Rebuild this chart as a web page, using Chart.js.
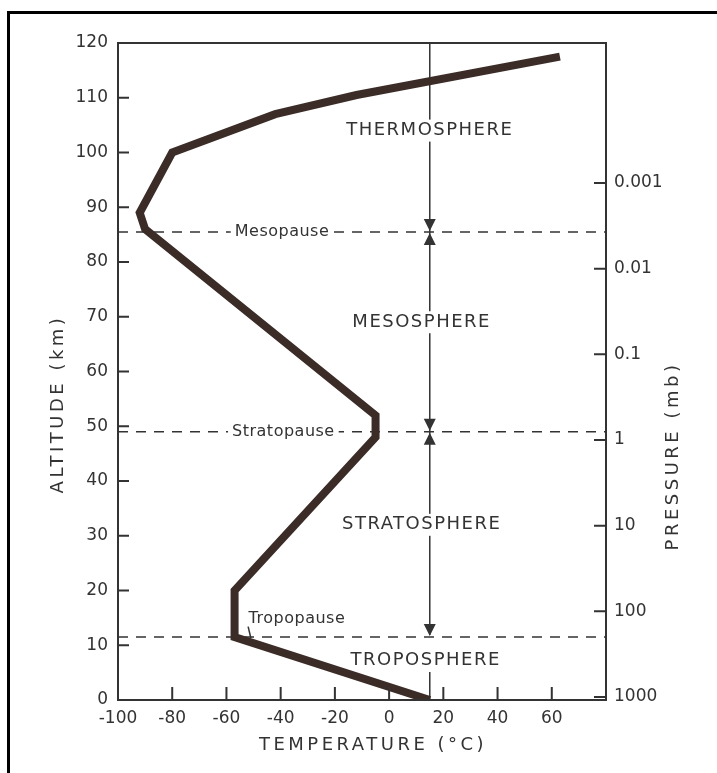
<!DOCTYPE html>
<html>
<head>
<meta charset="utf-8">
<script src="https://cdn.jsdelivr.net/npm/chart.js@4.4.0/dist/chart.umd.min.js"></script>
<style>
  html, body { margin: 0; padding: 0; background: #fff; }
  #wrap { position: relative; width: 717px; height: 773px; overflow: hidden; }
  #chart { position: absolute; left: 0; top: 0; }
  #frame { position: absolute; left: 7px; top: 11px; width: 760px; height: 820px; border: 3px solid #000; pointer-events: none; }
</style>
</head>
<body>
<div id="wrap">
  <canvas id="chart" width="717" height="773"></canvas>
  <div id="frame"></div>
</div>
<script>
// temperature profile (°C vs km)
const temperature = [15, -57, -57, -5, -5, -90, -92, -80, -42, -12, 63];
const altitude = [0, 11.5, 20, 48, 52, 86, 89, 100, 107, 110.5, 117.5];

const altitudeTicks = [0, 10, 20, 30, 40, 50, 60, 70, 80, 90, 100, 110, 120];
const temperatureTicks = [-100, -80, -60, -40, -20, 0, 20, 40, 60, 80];
const pressureTicks = [0.001, 0.01, 0.1, 1, 10, 100, 1000];

const layerNames = ['THERMOSPHERE', 'MESOSPHERE', 'STRATOSPHERE', 'TROPOSPHERE'];
const layerTemps = [15, 12, 12, 13.5];
const layerAlts = [104, 69, 32, 7.3];

const pauseNames = ['Mesopause', 'Stratopause', 'Tropopause'];
const pauseAlts = [85.5, 49, 11.5];
const pauseLabelTemps = [-39.5, -39, -34];
const pauseLabelAlts = [85.5, 49, 14.8];

const dividerTemp = 15;

const ink = '#333';
const fontFamily = "'DejaVu Sans', sans-serif";

function triangle(ctx, x, y, dir) {
  // dir 1 = pointing down to y, -1 = pointing up to y
  ctx.beginPath();
  ctx.moveTo(x, y);
  ctx.lineTo(x - 6, y - dir * 12);
  ctx.lineTo(x + 6, y - dir * 12);
  ctx.closePath();
  ctx.fill();
}

function labelWithBg(ctx, text, x, y, padX, padY) {
  const w = ctx.measureText(text).width;
  ctx.fillStyle = '#fff';
  ctx.fillRect(x - w / 2 - padX, y - 9 - padY, w + padX * 2, 18 + padY * 2);
  ctx.fillStyle = ink;
  ctx.fillText(text, x, y);
}

const overlay = {
  id: 'overlay',
  beforeDatasetsDraw(chart) {
    const { ctx, chartArea, scales } = chart;
    const x = scales.x;
    const y = scales.y;
    const vx = x.getPixelForValue(dividerTemp);
    ctx.save();

    // pause lines
    ctx.strokeStyle = ink;
    ctx.lineWidth = 1.5;
    ctx.setLineDash([10, 8]);
    pauseAlts.forEach((a) => {
      const py = y.getPixelForValue(a);
      ctx.beginPath();
      ctx.moveTo(chartArea.left, py);
      ctx.lineTo(chartArea.right, py);
      ctx.stroke();
    });
    ctx.setLineDash([]);

    // vertical divider
    const tropoY = y.getPixelForValue(pauseAlts[2]);
    const tropoLabelY = y.getPixelForValue(layerAlts[3]);
    ctx.beginPath();
    ctx.moveTo(vx, chartArea.top);
    ctx.lineTo(vx, tropoY - 2);
    ctx.moveTo(vx, tropoLabelY + 12);
    ctx.lineTo(vx, chartArea.bottom);
    ctx.stroke();

    // arrow heads
    ctx.fillStyle = ink;
    pauseAlts.forEach((a, i) => {
      const py = y.getPixelForValue(a);
      triangle(ctx, vx, py - 1, 1);
      if (i < 2) triangle(ctx, vx, py + 1, -1);
    });

    // pause labels
    ctx.font = '16px ' + fontFamily;
    ctx.letterSpacing = '0.5px';
    ctx.textAlign = 'center';
    ctx.textBaseline = 'middle';
    pauseNames.forEach((n, i) => {
      const px = x.getPixelForValue(pauseLabelTemps[i]);
      const py = y.getPixelForValue(pauseLabelAlts[i]);
      if (i < 2) labelWithBg(ctx, n, px, py, 4, 0);
      else { ctx.fillStyle = ink; ctx.fillText(n, px, py); }
    });
    // little pointer from Tropopause label
    ctx.beginPath();
    ctx.moveTo(x.getPixelForValue(-52), y.getPixelForValue(13.4));
    ctx.lineTo(x.getPixelForValue(-51), tropoY + 1);
    ctx.stroke();

    // layer names
    ctx.font = '18px ' + fontFamily;
    ctx.letterSpacing = '1.5px';
    layerNames.forEach((n, i) => {
      labelWithBg(ctx, n, x.getPixelForValue(layerTemps[i]), y.getPixelForValue(layerAlts[i]), 3, 2);
    });
    ctx.restore();
  },
  afterDraw(chart) {
    const { ctx, chartArea, scales } = chart;
    ctx.save();
    ctx.strokeStyle = ink;
    ctx.lineWidth = 2;
    ctx.strokeRect(chartArea.left, chartArea.top, chartArea.right - chartArea.left, chartArea.bottom - chartArea.top);

    // inward tick marks
    ctx.beginPath();
    altitudeTicks.slice(1, -1).forEach((v) => {
      const py = scales.y.getPixelForValue(v);
      ctx.moveTo(chartArea.left, py);
      ctx.lineTo(chartArea.left + 11, py);
    });
    temperatureTicks.slice(1, -1).forEach((v) => {
      const px = scales.x.getPixelForValue(v);
      ctx.moveTo(px, chartArea.bottom);
      ctx.lineTo(px, chartArea.bottom - 13);
    });
    pressureTicks.forEach((v) => {
      const py = scales.y2.getPixelForValue(v);
      ctx.moveTo(chartArea.right, py);
      ctx.lineTo(chartArea.right - 12, py);
    });
    ctx.stroke();

    // axis titles
    ctx.fillStyle = ink;
    ctx.textAlign = 'center';
    ctx.textBaseline = 'middle';
    ctx.font = '18px ' + fontFamily;
    ctx.letterSpacing = '3.5px';
    ctx.fillText('TEMPERATURE (°C)', 373, 745);
    ctx.save();
    ctx.translate(58, 404);
    ctx.rotate(-Math.PI / 2);
    ctx.fillText('ALTITUDE (km)', 0, 0);
    ctx.restore();
    ctx.save();
    ctx.translate(673, 456);
    ctx.rotate(-Math.PI / 2);
    ctx.fillText('PRESSURE (mb)', 0, 0);
    ctx.restore();
    ctx.restore();
  },
};

const tickFont = { family: fontFamily, size: 17 };

new Chart(document.getElementById('chart'), {
  type: 'scatter',
  data: {
    datasets: [{
      data: temperature.map((t, i) => ({ x: t, y: altitude[i] })),
      showLine: true,
      borderColor: '#3b2c27',
      borderWidth: 8,
      borderJoinStyle: 'miter',
      pointRadius: 0,
      yAxisID: 'y',
    }],
  },
  options: {
    responsive: false,
    animation: false,
    layout: { padding: { top: 43 } },
    plugins: {
      legend: { display: false },
      tooltip: { enabled: false },
    },
    scales: {
      x: {
        type: 'linear',
        min: -100,
        max: 80,
        afterBuildTicks: (s) => { s.ticks = temperatureTicks.map((v) => ({ value: v })); },
        afterFit: (s) => { s.height = 73; },
        ticks: {
          callback: (v) => (v === 80 ? '' : String(v)),
          color: ink,
          font: tickFont,
          padding: 8,
          maxRotation: 0,
          autoSkip: false,
        },
        grid: { display: false, drawTicks: false },
        border: { display: true, color: ink, width: 2 },
      },
      y: {
        type: 'linear',
        position: 'left',
        min: 0,
        max: 120,
        afterBuildTicks: (s) => { s.ticks = altitudeTicks.map((v) => ({ value: v })); },
        afterFit: (s) => { s.width = 118; },
        ticks: { color: ink, font: tickFont, padding: 10, autoSkip: false },
        grid: { display: false, drawTicks: false },
        border: { display: true, color: ink, width: 2 },
      },
      y2: {
        type: 'logarithmic',
        position: 'right',
        reverse: true,
        min: 2.32e-5,
        max: 1084,
        afterBuildTicks: (s) => { s.ticks = pressureTicks.map((v) => ({ value: v })); },
        afterFit: (s) => { s.width = 111; },
        ticks: { callback: (v) => String(v), color: ink, font: tickFont, padding: 8, autoSkip: false },
        grid: { display: false, drawTicks: false },
        border: { display: true, color: ink, width: 2 },
      },
    },
  },
  plugins: [overlay],
});
</script>
</body>
</html>
